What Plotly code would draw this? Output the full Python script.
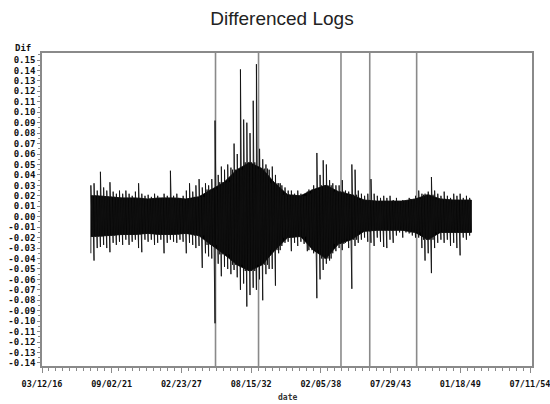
import pandas as pd
import plotly.graph_objects as go

# ---------------- data ----------------
# quarterly extremes of the differenced log series, 1920Q1 .. 1949Q4
quarter_start = "1920-01-01"
quarter_hi = [
    0.030, 0.032, 0.025, 0.043, 0.028, 0.025, 0.033, 0.024, 0.022, 0.025,
    0.022, 0.025, 0.022, 0.020, 0.024, 0.032, 0.022, 0.020, 0.021, 0.019,
    0.022, 0.020, 0.018, 0.022, 0.020, 0.044, 0.020, 0.022, 0.018, 0.020,
    0.025, 0.032, 0.024, 0.030, 0.036, 0.028, 0.032, 0.030, 0.036, 0.092,
    0.040, 0.048, 0.045, 0.050, 0.047, 0.070, 0.060, 0.141, 0.093, 0.090,
    0.080, 0.111, 0.146, 0.065, 0.055, 0.050, 0.045, 0.048, 0.040, 0.032,
    0.030, 0.028, 0.025, 0.025, 0.022, 0.025, 0.022, 0.020, 0.024, 0.022,
    0.030, 0.061, 0.040, 0.054, 0.050, 0.035, 0.032, 0.030, 0.030, 0.035,
    0.025, 0.024, 0.050, 0.045, 0.025, 0.022, 0.020, 0.022, 0.036, 0.022,
    0.020, 0.018, 0.020, 0.018, 0.020, 0.016, 0.018, 0.015, 0.016, 0.015,
    0.018, 0.016, 0.020, 0.025, 0.022, 0.022, 0.024, 0.038, 0.025, 0.022,
    0.020, 0.024, 0.020, 0.018, 0.022, 0.020, 0.022, 0.018, 0.020, 0.018,
]
quarter_lo = [
    -0.035, -0.042, -0.030, -0.029, -0.027, -0.030, -0.034, -0.025, -0.027, -0.024,
    -0.027, -0.022, -0.027, -0.024, -0.022, -0.030, -0.034, -0.022, -0.024, -0.022,
    -0.027, -0.025, -0.022, -0.035, -0.025, -0.022, -0.024, -0.025, -0.022, -0.024,
    -0.035, -0.025, -0.027, -0.030, -0.028, -0.049, -0.035, -0.038, -0.040, -0.102,
    -0.045, -0.057, -0.048, -0.050, -0.055, -0.051, -0.058, -0.070, -0.064, -0.086,
    -0.075, -0.068, -0.070, -0.060, -0.080, -0.055, -0.050, -0.050, -0.066, -0.035,
    -0.028, -0.025, -0.024, -0.033, -0.025, -0.028, -0.024, -0.026, -0.033, -0.028,
    -0.035, -0.078, -0.060, -0.051, -0.045, -0.042, -0.035, -0.033, -0.030, -0.032,
    -0.025, -0.030, -0.069, -0.028, -0.025, -0.022, -0.020, -0.024, -0.025, -0.028,
    -0.020, -0.024, -0.029, -0.030, -0.022, -0.025, -0.018, -0.015, -0.020, -0.015,
    -0.016, -0.018, -0.020, -0.020, -0.030, -0.042, -0.035, -0.054, -0.030, -0.025,
    -0.022, -0.025, -0.022, -0.028, -0.025, -0.030, -0.037, -0.020, -0.022, -0.018,
]
# dense core of the band, one value per year 1920 .. 1949
core_years = list(range(1920, 1950))
core_hi = [0.020, 0.019, 0.018, 0.018, 0.017, 0.018, 0.018, 0.017, 0.019, 0.026,
           0.033, 0.045, 0.052, 0.046, 0.032, 0.021, 0.020, 0.026, 0.030, 0.024,
           0.021, 0.016, 0.015, 0.015, 0.015, 0.017, 0.021, 0.017, 0.016, 0.016]
core_lo = [-0.019, -0.018, -0.017, -0.017, -0.016, -0.017, -0.017, -0.016, -0.018, -0.027,
           -0.036, -0.046, -0.052, -0.046, -0.032, -0.020, -0.019, -0.032, -0.040, -0.026,
           -0.022, -0.014, -0.013, -0.013, -0.013, -0.015, -0.022, -0.015, -0.015, -0.015]
# reference lines
event_dates = ["1929-10-28", "1933-03-15", "1939-09-05", "1941-12-08", "1945-08-15"]
# axis ticks
x_tick0 = "1916-03-12"
x_tick_days = 2000
x_end = "1954-09-06"
y_ticks = [i / 100 for i in range(-14, 16)]
y_ticklabels = [f"{v:.2f}" for v in y_ticks]

# ---------------- build traces ----------------
core_of_year = dict(zip(core_years, zip(core_lo, core_hi)))
qdates = pd.date_range(quarter_start, periods=len(quarter_hi), freq="QS")
zx, zy = [], []
for d, lo, hi in zip(qdates, quarter_lo, quarter_hi):
    clo, chi = core_of_year[d.year]
    ta = d + pd.Timedelta(days=12)
    tb = d + pd.Timedelta(days=57)
    zx += [ta, ta, tb, tb]
    zy += [lo, hi, clo, chi]

# filled core polygon (year midpoints, closed at the ends of the data)
mid = [pd.Timestamp(f"{y}-07-01") for y in core_years]
first = qdates[0] + pd.Timedelta(days=12)
last = qdates[-1] + pd.Timedelta(days=57)
cx = [first] + mid + [last, last] + mid[::-1] + [first]
cy = [core_hi[0]] + core_hi + [core_hi[-1], core_lo[-1]] + core_lo[::-1] + [core_lo[0]]

fig = go.Figure()
fig.add_trace(go.Scatter(x=cx, y=cy, mode="lines", fill="toself",
                         fillcolor="black", line=dict(color="black", width=0.8),
                         hoverinfo="skip", showlegend=False))
fig.add_trace(go.Scatter(x=zx, y=zy, mode="lines",
                         line=dict(color="#111", width=0.9),
                         showlegend=False))

for d in event_dates:
    fig.add_shape(type="line", xref="x", yref="paper", x0=d, x1=d, y0=0, y1=1,
                  line=dict(color="#8a8a8a", width=1.6), layer="below")

tickfont = dict(family="DejaVu Sans Mono", size=9, color="#111", weight="bold")
axcol = "#8a8a8a"

fig.update_layout(
    width=550, height=404,
    margin=dict(l=42, r=18, t=53, b=38, autoexpand=False),
    paper_bgcolor="white", plot_bgcolor="white",
    title=dict(text="Differenced Logs", x=282 / 550, xanchor="center",
               y=1 - 18 / 404, yanchor="middle", yref="container",
               font=dict(family="Liberation Sans", size=19, color="#222")),
    xaxis=dict(
        type="date", range=[x_tick0, x_end], automargin=False,
        tickmode="linear", tick0=x_tick0, dtick=x_tick_days * 86400000,
        tickformat="%m/%d/%y", tickfont=dict(tickfont, size=8.5),
        ticklabeloverflow="allow",
        ticks="outside", ticklen=5, tickcolor=axcol, tickwidth=1,
        ticklabelstandoff=4,
        minor=dict(tickmode="linear", tick0=x_tick0, dtick=x_tick_days // 10 * 86400000,
                   ticks="outside", ticklen=3, tickcolor=axcol),
        showgrid=False, zeroline=False,
        showline=True, linecolor=axcol, linewidth=1.6, mirror=True,
    ),
    yaxis=dict(
        range=[-0.1429, 0.1567], automargin=False,
        tickmode="array", tickvals=y_ticks, ticktext=y_ticklabels,
        tickfont=tickfont,
        ticks="outside", ticklen=3, tickcolor=axcol, tickwidth=1,
        minor=dict(tickmode="linear", tick0=0, dtick=0.005,
                   ticks="outside", ticklen=2, tickcolor=axcol),
        showgrid=False, zeroline=False,
        showline=True, linecolor=axcol, linewidth=1.6, mirror=True,
    ),
    annotations=[
        dict(text="Dif", xref="paper", yref="paper", x=(33 - 42) / 490,
             y=(366 - 48) / 313, xanchor="right", yanchor="middle",
             showarrow=False, font=tickfont),
        dict(text="date", xref="paper", yref="paper", x=0.5,
             y=(366 - 397) / 313, xanchor="center", yanchor="middle",
             showarrow=False, font=dict(family="DejaVu Sans Mono", size=8, color="#333", weight="bold")),
    ],
)

fig.write_html("out.html", config={"displayModeBar": False},
               post_script="document.body.style.margin='0';")
